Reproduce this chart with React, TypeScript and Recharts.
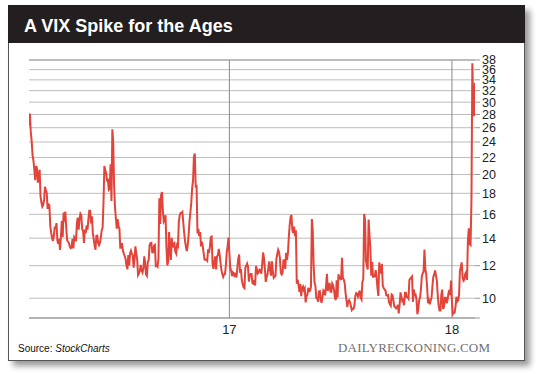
import React from "react";
import { ComposedChart, Line, XAxis, YAxis, CartesianGrid, ReferenceLine } from "recharts";

// VIX daily closes, Feb 10 2016 .. Dec 30 2016
const vix2016: number[] = [
  26.29, 28.14, 25.4, 24.11, 22.31, 21.64, 20.53, 19.38, 20.98, 20.72, 19.11, 19.81, 20.55,
  17.7, 17.09, 16.7, 16.86, 17.35, 18.67, 18.34, 18.05, 16.5, 16.92, 16.84, 14.99, 14.44, 14.02, 13.79, 14.17, 14.94, 14.74, 15.24, 13.82, 13.56, 13.95,
  13.1, 14.12, 15.42, 14.09, 16.16, 15.36, 16.26, 14.85, 13.84, 13.72, 13.62, 13.35, 13.24, 13.28, 13.95, 13.22, 14.08, 13.96, 13.77, 15.22, 15.7,
  14.68, 15.6, 16.05, 15.91, 14.72, 14.57, 13.63, 14.69, 14.41, 15.04, 14.68, 15.57, 16.33, 16.31, 15.2, 15.82, 14.42, 13.9, 13.43, 13.12, 14.19,
  14.2, 13.63, 13.47, 13.65, 14.05, 14.64, 14.81, 17.03, 20.97, 20.5, 20.14, 19.37, 19.41, 18.37, 18.48, 21.17, 17.25, 25.76, 23.85, 18.75, 16.64, 15.63,
  14.77, 15.58, 14.96, 14.76, 13.2, 13.54, 13.55, 13.04, 12.82, 12.67, 12.44, 11.97, 11.77, 12.74, 12.02, 12.87, 13.05, 12.83, 12.72, 11.87,
  12.44, 13.37, 12.86, 12.42, 11.39, 11.5, 11.66, 12.05, 11.68, 11.55, 11.81, 12.64, 12.19, 11.43, 11.34, 12.27, 12.38, 13.45, 13.63, 13.65, 12.94, 12.94, 13.42,
  13.48, 11.98, 12.02, 11.94, 12.51, 17.5, 15.16, 17.85, 18.14, 16.3, 15.37, 15.53, 15.92, 13.3, 12.02, 12.29, 14.5, 13.1, 12.39, 14.02, 13.29,
  13.57, 13.63, 12.99, 12.84, 13.48, 13.38, 15.36, 15.91, 16.12, 16.12, 16.21, 15.28, 14.41, 13.75, 13.34, 13.02, 13.46, 14.24, 15.36, 16.19, 17.06,
  18.56, 19.32, 22.08, 22.51, 18.71, 18.74, 14.38, 14.74, 14.17, 14.48, 13.37, 13.72, 13.35, 12.85, 12.42, 12.41, 12.43, 12.34, 13.15, 12.9, 13.33,
  14.07, 14.12, 12.14, 11.79, 12.22, 12.64, 11.75, 12.64, 12.72, 13.19, 12.79, 12.2, 11.71, 11.45, 11.27, 11.43, 11.44, 11.99, 12.95, 13.37, 14.04,
];

// VIX daily closes, 2017
const vix2017: number[] = [
  12.85, 11.85, 11.67, 11.32, 11.56, 11.49, 11.26, 11.54, 11.23, 11.87, 12.48, 12.78, 11.54, 11.77, 11.07, 10.81, 10.63, 10.58, 11.88, 11.99,
  12.14, 11.93, 10.97, 11.37, 11.45, 11.45, 10.88, 10.85, 11.07, 10.74, 11.97, 11.76, 11.49, 11.57, 11.74, 11.71, 11.47, 12.09, 12.92,
  12.54, 11.81, 10.96, 11.24, 11.45, 11.86, 12.3, 11.66, 11.35, 12.3, 11.63, 11.21, 11.28, 11.34, 12.47, 12.81, 13.12, 12.96, 12.5, 11.53, 11.42, 11.54, 12.37,
  12.38, 11.79, 12.89, 12.39, 12.87, 14.05, 15.07, 15.77, 15.96, 14.66, 14.42, 14.93, 14.15, 14.63, 10.84, 11.09, 10.76, 10.36, 10.82,
  10.11, 10.59, 10.68, 10.46, 10.57, 9.77, 10.11, 10.21, 10.6, 10.4, 10.42, 10.65, 15.59, 14.66, 12.04, 10.93, 10.72, 10.02, 9.99, 9.81, 10.38, 10.41,
  9.89, 9.75, 10.07, 10.45, 10.39, 10.16, 10.7, 11.46, 10.42, 10.64, 10.9, 10.38, 10.37, 10.86, 10.75, 10.48, 10.02, 9.9, 11.06, 10.03, 11.44, 11.18,
  11.22, 11.07, 12.54, 11.19, 11.11, 10.89, 10.3, 9.9, 9.51, 9.82, 9.89, 9.79, 9.58, 9.36, 9.43, 9.43, 9.6, 10.11, 10.29, 10.26,
  10.09, 10.28, 10.44, 10.03, 9.93, 10.96, 11.11, 16.04, 15.51, 12.33, 12.04, 11.74, 15.55, 14.26, 13.19, 11.35, 12.25, 11.28, 11.28, 11.32, 11.7, 11.22, 10.59,
  10.13, 12.23, 11.63, 11.55, 12.12, 10.73, 10.58, 10.5, 10.44, 10.17, 10.15, 10.18, 9.78, 9.67, 9.59, 10.21, 10.17, 9.87, 9.55, 9.51,
  9.45, 9.51, 9.63, 9.19, 9.65, 10.33, 10.08, 9.85, 9.91, 9.61, 10.31, 10.31, 10.07, 10.05, 9.97, 11.07, 11.16, 11.23, 11.3, 9.8, 10.5, 10.18,
  10.2, 9.93, 9.14, 9.4, 9.89, 10.03, 10.5, 11.29, 11.5, 11.59, 13.13, 11.76, 11.43, 10.65, 9.73, 9.88, 9.67, 9.87, 10.03, 10.7, 11.28,
  11.43, 11.68, 11.33, 11.02, 10.16, 9.58, 9.34, 9.34, 10.18, 10.49, 9.42, 9.53, 10.03, 10.03, 9.72, 9.9, 10.25, 10.47, 10.18, 11.04,
];

// VIX daily closes, Jan 2 2018 .. Feb 8 2018
const vix2018: number[] = [
  9.77, 9.15, 9.22, 9.22, 9.52, 10.08, 9.82, 9.88, 10.16, 11.66, 11.91, 12.22, 11.27, 11.03, 11.1, 11.47, 11.58, 11.08, 13.84, 14.79, 13.54,
  13.47, 17.31, 37.32, 29.98, 27.73, 33.46,
];

const yearLabels: string[] = ["17", "18"];
const yTicks: number[] = [8.95, 10, 12, 14, 16, 18, 20, 22, 24, 26, 28, 30, 32, 34, 36, 38];

const allValues = [...vix2016, ...vix2017, ...vix2018];
const data = allValues.map((v, i) => ({ i, v }));
const yearStarts = [vix2016.length, vix2016.length + vix2017.length];

const FONT = "'Liberation Sans', Arial, Helvetica, sans-serif";

export default function App() {
  return (
    <div style={{ position: "absolute", left: 0, top: 0, width: 540, height: 374, background: "#fff", overflow: "hidden" }}>
      <div
        style={{
          position: "absolute",
          left: 8,
          top: 5,
          width: 515,
          height: 354,
          border: "1px solid #555",
          background: "#fff",
          boxShadow: "5px 5px 6px rgba(0,0,0,0.4)",
        }}
      />
      <div style={{ position: "absolute", left: 8, top: 5, width: 517, height: 38, background: "#231f20" }} />
      <div
        style={{
          position: "absolute",
          left: 24,
          top: 16,
          color: "#fff",
          fontFamily: FONT,
          fontWeight: "bold",
          fontSize: 18,
          lineHeight: "20px",
          whiteSpace: "nowrap",
        }}
      >
        A VIX Spike for the Ages
      </div>
      <div style={{ position: "absolute", left: 0, top: 0 }}>
        <ComposedChart width={540} height={374} data={data} margin={{ top: 60, right: 0, bottom: 0, left: 29 }}>
          <CartesianGrid horizontal={true} vertical={false} stroke="#bdbdbd" strokeWidth={1} />
          <XAxis
            dataKey="i"
            type="number"
            domain={[0, allValues.length - 1]}
            ticks={yearStarts}
            tickFormatter={(v: number) => yearLabels[yearStarts.indexOf(v)] ?? ""}
            height={56}
            axisLine={{ stroke: "#8a8a8a", strokeWidth: 1.2 }}
            tickLine={false}
            tickSize={0}
            tickMargin={7}
            tick={{ fill: "#222", fontSize: 13, fontFamily: FONT }}
            allowDataOverflow
          />
          <YAxis
            orientation="right"
            scale="log"
            domain={[8.95, 38]}
            ticks={yTicks}
            tickFormatter={(v: number) => (v < 9.5 ? "" : String(v))}
            width={65}
            axisLine={false}
            tickLine={{ stroke: "#9a9a9a" }}
            tickSize={5}
            tickMargin={2}
            tick={{ fill: "#222", fontSize: 12.5, fontFamily: FONT }}
            allowDataOverflow
            interval={0}
          />
          {yearStarts.map((x) => (
            <ReferenceLine key={x} x={x} stroke="#8a8a8a" strokeWidth={1} />
          ))}
          <ReferenceLine y={38} stroke="#9a9a9a" strokeWidth={1.2} />
          <Line
            dataKey="v"
            type="linear"
            stroke="#e2443a"
            strokeWidth={2}
            dot={false}
            isAnimationActive={false}
          />
        </ComposedChart>
      </div>
      <div style={{ position: "absolute", left: 18, top: 343, fontFamily: FONT, fontSize: 10, color: "#111", whiteSpace: "nowrap" }}>
        Source: <i>StockCharts</i>
      </div>
      <div
        style={{
          position: "absolute",
          left: 338,
          top: 340,
          fontFamily: "'Liberation Serif', 'Times New Roman', serif",
          fontSize: 13,
          letterSpacing: 0.2,
          color: "#707070",
          whiteSpace: "nowrap",
        }}
      >
        DAILYRECKONING.COM
      </div>
    </div>
  );
}
